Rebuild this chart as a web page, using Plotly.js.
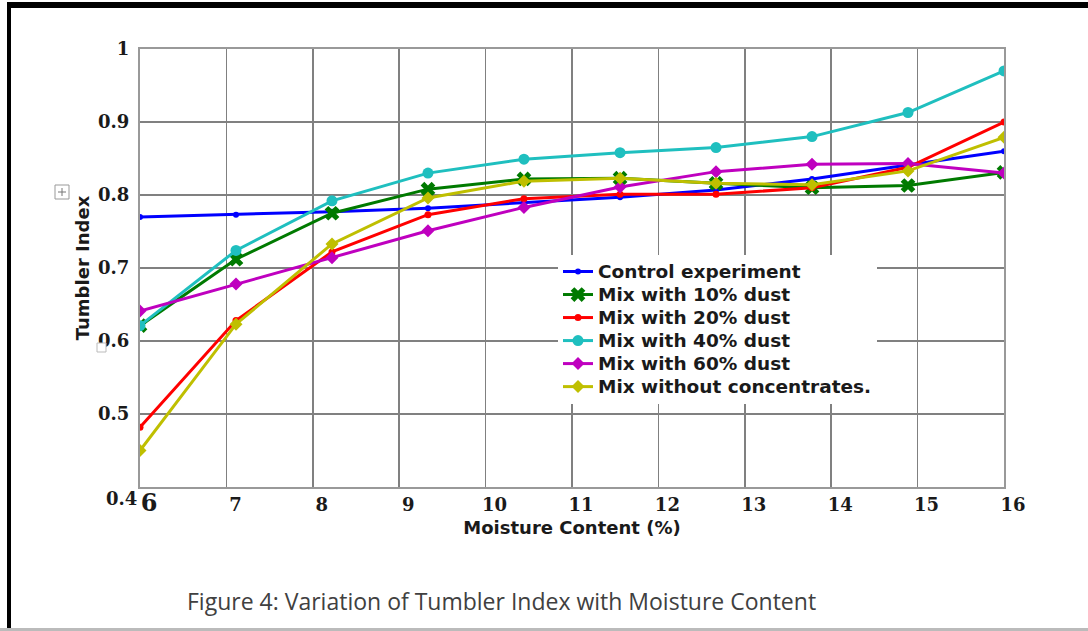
<!DOCTYPE html>
<html>
<head>
<meta charset="utf-8">
<script src="https://cdn.plot.ly/plotly-3.0.1.min.js"></script>
<style>
  html, body { margin: 0; padding: 0; background: #fff; }
  #wrap { position: relative; width: 1088px; height: 631px; overflow: hidden; }
  #chart { width: 1088px; height: 631px; }
  #frame { position: absolute; left: 7px; top: 2px; width: 1100px; height: 640px;
           border-top: 6px solid #000; border-left: 4px solid #000; pointer-events: none; }
  #bottomline { position: absolute; left: 0; top: 628px; width: 1088px; height: 3px; background: #bbb; pointer-events: none; }
</style>
</head>
<body>
<div id="wrap">
  <div id="chart"></div>
  <div id="frame"></div>
  <div id="bottomline"></div>
</div>
<script>
// Moisture content (%)
const moisture = [6, 7.111, 8.222, 9.333, 10.444, 11.556, 12.667, 13.778, 14.889, 16];

// Tumbler index per mix
const controlExperiment = [0.770, 0.773, 0.777, 0.782, 0.790, 0.797, 0.807, 0.822, 0.841, 0.860];
const mix10Dust        = [0.621, 0.712, 0.775, 0.808, 0.822, 0.823, 0.816, 0.810, 0.813, 0.831];
const mix20Dust        = [0.482, 0.628, 0.722, 0.773, 0.795, 0.801, 0.801, 0.810, 0.838, 0.900];
const mix40Dust        = [0.621, 0.724, 0.792, 0.830, 0.849, 0.858, 0.865, 0.880, 0.913, 0.970];
const mix60Dust        = [0.641, 0.678, 0.714, 0.751, 0.783, 0.811, 0.832, 0.842, 0.843, 0.830];
const mixNoConc        = [0.450, 0.623, 0.733, 0.796, 0.819, 0.823, 0.816, 0.814, 0.833, 0.879];

const seriesNames = ["Control experiment", "Mix with 10% dust", "Mix with 20% dust",
                     "Mix with 40% dust", "Mix with 60% dust", "Mix without concentrates."];

const xTickVals = [6, 7, 8, 9, 10, 11, 12, 13, 14, 15, 16];
const xTickText = ['<span style="font-size:24px">6</span>', "7", "8", "9", "10", "11", "12", "13", "14", "15", "16"];
// the lowest y label (0.4) sits lower than its gridline in the original, so it is drawn separately
const yTickVals = [0.5, 0.6, 0.7, 0.8, 0.9, 1.0];
const yTickText = ["0.5", "0.6", "0.7", "0.8", "0.9", "1"];
const yBottomLabel = "0.4";

const styles = [
  {color: "#0000ff", symbol: "circle", size: 6},
  {color: "#007a00", symbol: "x", size: 13},
  {color: "#ff0000", symbol: "circle", size: 7},
  {color: "#1fbfbf", symbol: "circle", size: 11},
  {color: "#bf00bf", symbol: "diamond", size: 10},
  {color: "#bfbf00", symbol: "diamond", size: 10}
];
const ys = [controlExperiment, mix10Dust, mix20Dust, mix40Dust, mix60Dust, mixNoConc];

const traces = ys.map((y, i) => ({
  x: moisture, y: y, type: "scatter", mode: "lines+markers",
  name: '<span style="font-size:18.5px">' + seriesNames[i] + '</span>',
  legendgroup: "g" + i,
  line: {color: styles[i].color, width: 3},
  marker: {color: styles[i].color, symbol: styles[i].symbol, size: styles[i].size, line: {width: 0}}
}));

const tickFont = {family: "DejaVu Serif", size: 18, color: "#1a1a1a", weight: "bold"};
const legendFont = {family: "DejaVu Sans", size: 15.4, color: "#1a1a1a", weight: "bold"};
const titleFont = {family: "DejaVu Sans", size: 18, color: "#1a1a1a", weight: "bold"};

function px2x(p) { return (p - 140) / 864; }
function px2y(p) { return (487 - p) / 438; }

const layout = {
  width: 1088, height: 631,
  margin: {l: 140, r: 84, t: 49, b: 144},
  paper_bgcolor: "#fff", plot_bgcolor: "#fff",
  showlegend: true,
  legend: {
    x: px2x(558), y: px2y(255), xanchor: "left", yanchor: "top",
    bgcolor: "#fff", borderwidth: 0, font: legendFont,
    traceorder: "grouped", tracegroupgap: 0, itemwidth: 30
  },
  xaxis: {
    range: [6, 16], tickvals: xTickVals, ticktext: xTickText,
    showgrid: true, gridcolor: "#808080", gridwidth: 1.5,
    zeroline: false, showline: true, linecolor: "#999", linewidth: 2, mirror: true,
    ticks: "", tickfont: tickFont, ticklabelshift: 9, ticklabelstandoff: 0,
    title: {text: "Moisture Content (%)", font: titleFont, standoff: 6}
  },
  yaxis: {
    range: [0.4, 1.0], tickvals: yTickVals, ticktext: yTickText,
    showgrid: true, gridcolor: "#808080", gridwidth: 1.5,
    zeroline: false, showline: true, linecolor: "#999", linewidth: 2, mirror: true,
    ticks: "", tickfont: tickFont, ticklabelstandoff: 5,
    title: {text: "Tumbler Index", font: titleFont, standoff: 4}
  },
  annotations: [
    {
      text: "Figure 4: Variation of Tumbler Index with Moisture Content",
      xref: "paper", yref: "paper", x: px2x(501), y: px2y(601),
      xanchor: "center", yanchor: "middle", showarrow: false,
      font: {family: "Open Sans", size: 23, color: "#404040"}
    },
    {
      text: yBottomLabel,
      xref: "paper", yref: "paper", x: px2x(139), y: px2y(498),
      xanchor: "right", yanchor: "middle", showarrow: false,
      font: tickFont
    }
  ],
  shapes: [
    {type: "rect", xref: "paper", yref: "paper", x0: px2x(55), x1: px2x(69), y0: px2y(199), y1: px2y(185),
     line: {color: "#999", width: 1}, fillcolor: "#fff", layer: "above"},
    {type: "line", xref: "paper", yref: "paper", x0: px2x(58), x1: px2x(66), y0: px2y(192), y1: px2y(192),
     line: {color: "#777", width: 1}, layer: "above"},
    {type: "line", xref: "paper", yref: "paper", x0: px2x(62), x1: px2x(62), y0: px2y(196), y1: px2y(188),
     line: {color: "#777", width: 1}, layer: "above"},
    {type: "rect", xref: "paper", yref: "paper", x0: px2x(97), x1: px2x(106), y0: px2y(352), y1: px2y(343),
     line: {color: "#bbb", width: 1}, fillcolor: "#fff", layer: "above"}
  ]
};

Plotly.newPlot("chart", traces, layout, {displayModeBar: false, staticPlot: true});
</script>
</body>
</html>
